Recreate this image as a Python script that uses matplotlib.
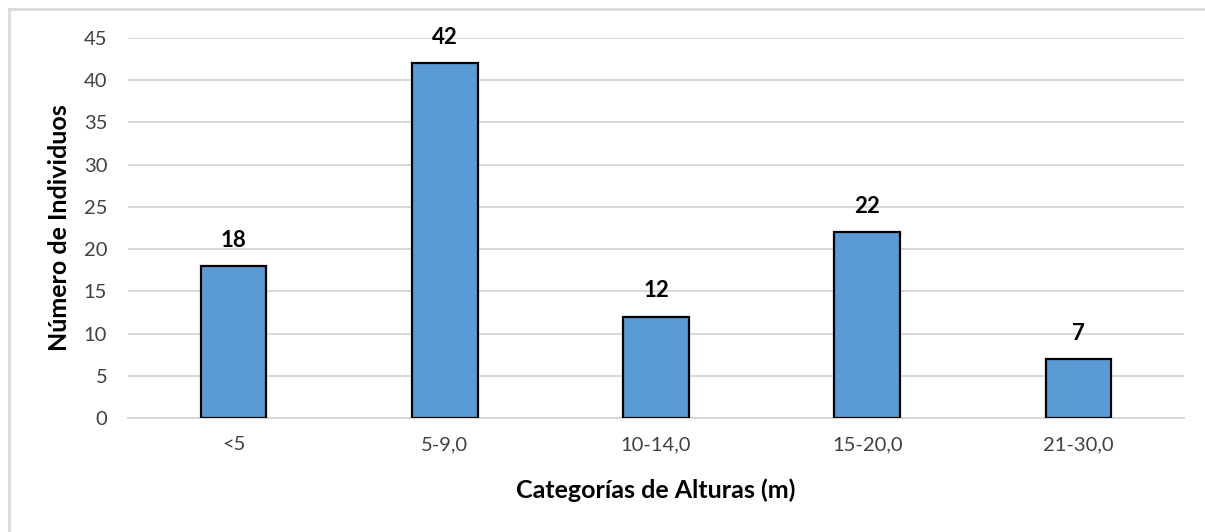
import matplotlib.pyplot as plt
from matplotlib.lines import Line2D

categories = ["<5", "5-9,0", "10-14,0", "15-20,0", "21-30,0"]
counts = [18, 42, 12, 22, 7]
y_ticks = [0, 5, 10, 15, 20, 25, 30, 35, 40, 45]

plt.rcParams['font.family'] = ['Lato', 'DejaVu Sans']

fig = plt.figure(figsize=(12.05, 5.32), dpi=100)
ax = fig.add_axes([128 / 1205, 114 / 532, 1056 / 1205, 380 / 532])

x = range(len(categories))
bars = ax.bar(x, counts, width=0.31, color="#5B9BD5", edgecolor="black",
              linewidth=1.6, zorder=3)

ax.set_xlim(-0.5, len(categories) - 0.5)
ax.set_ylim(0, 45)
ax.set_yticks(y_ticks)
ax.set_xticks(list(x))
ax.set_xticklabels(categories)

ax.grid(axis="y", color="#D9D9D9", linewidth=1.4, zorder=0)
for side in ["top", "right", "left"]:
    ax.spines[side].set_visible(False)
ax.spines["bottom"].set_color("#D9D9D9")
ax.spines["bottom"].set_linewidth(1.4)
ax.tick_params(axis="both", length=0, labelsize=14.5, colors="#404040")
ax.tick_params(axis="y", pad=15)
ax.tick_params(axis="x", pad=13)

for rect, v in zip(bars, counts):
    ax.annotate(str(v), (rect.get_x() + rect.get_width() / 2, v),
                xytext=(0, 11), textcoords="offset points",
                ha="center", va="bottom", fontsize=16, fontweight="bold",
                color="black")

ax.set_xlabel("Categorías de Alturas (m)", fontsize=18, fontweight="bold",
              color="black", labelpad=18)
ax.set_ylabel("Número de Individuos", fontsize=18, fontweight="bold",
              color="black", labelpad=9)

# light frame around the chart area
fig.add_artist(Line2D([8.5 / 1205, 1.0], [1 - 9 / 532, 1 - 9 / 532],
                      transform=fig.transFigure, color="#D9D9D9", linewidth=2))
fig.add_artist(Line2D([8.5 / 1205, 8.5 / 1205], [0.0, 1 - 9 / 532],
                      transform=fig.transFigure, color="#D9D9D9", linewidth=2))

fig.savefig("out.png", dpi=100)
